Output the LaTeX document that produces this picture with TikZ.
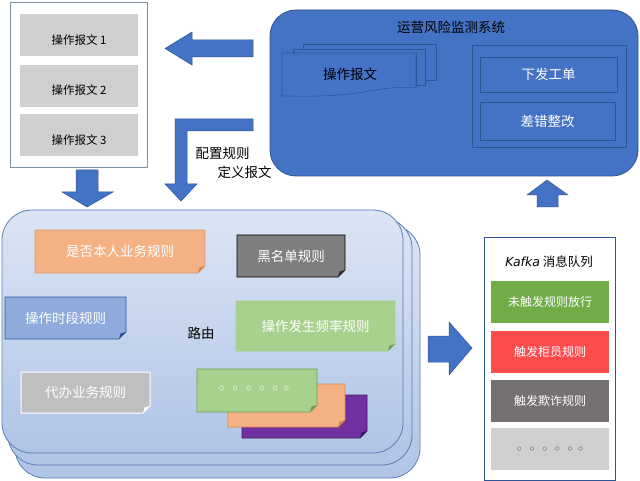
\documentclass[tikz,border=0pt]{standalone}
\usepackage{fontspec}
\setmainfont{Noto Sans CJK SC}
\newfontfamily\latinit{DejaVu Sans}
\usetikzlibrary{calc}
\definecolor{mblue}{HTML}{4472C4}
\definecolor{mbluedk}{HTML}{2F528F}
\definecolor{docline}{HTML}{2F5597}
\definecolor{lgray}{HTML}{D0CECE}
\definecolor{lblue1}{HTML}{DCE5F4}
\definecolor{lblue2}{HTML}{B0C4E6}
\definecolor{rborder}{HTML}{5B7DB8}
\definecolor{orng}{HTML}{F4B183}
\definecolor{orngdk}{HTML}{D9864A}
\definecolor{dgray}{HTML}{7F7F7F}
\definecolor{tblue}{HTML}{8FAADC}
\definecolor{tbluedk}{HTML}{2F5597}
\definecolor{lgreen}{HTML}{A9D18E}
\definecolor{lgreendk}{HTML}{6E9E50}
\definecolor{sgray}{HTML}{BFBFBF}
\definecolor{purp}{HTML}{7030A0}
\definecolor{purpdk}{HTML}{3E1A5C}
\definecolor{kgreen}{HTML}{70AD47}
\definecolor{kred}{HTML}{FF4B4B}
\definecolor{kgray}{HTML}{767171}
\definecolor{frame}{HTML}{7F8FA9}
\tikzset{
  blockarrow/.style={fill=mblue, draw=docline, line width=0.5pt},
  graybox/.style={fill=lgray, draw=none, minimum width=118pt, minimum height=42pt},
  graytxt/.style={font=\fontsize{11.5}{13}\selectfont},
  kbox/.style={draw=none, minimum width=118pt, minimum height=42pt, text=white, font=\fontsize{12}{14}\selectfont},
  bigtxt/.style={font=\fontsize{13.5}{16}\selectfont},
  wtxt/.style={text=white, font=\fontsize{13.5}{16}\selectfont},
  stackback/.style={draw=rborder, line width=0.8pt, top color=lblue1, bottom color=lblue2, rounded corners=30pt},
  docshape/.style={draw=docline, line width=0.6pt, fill=mblue},
  innerbox/.style={draw=docline, line width=0.7pt, fill=mblue},
}
% note with folded corner: name, x1, y1, x2, y2, style, fold colour, text style, text
\newcommand\notebox[9]{%
  \path[#6] (#2,#3) -- (#4,#3) -- (#4,#5-7) -- (#4-7,#5) -- (#2,#5) -- cycle;
  \fill[#7] (#4-7,#5) -- (#4,#5-7) -- (#4-5.5,#5-5.5) -- cycle;
  \node[#8] (#1) at ({(#2+#4)/2},{(#3+#5)/2}) {#9};
}
\newcommand\sixdots{$\circ\hspace{5.5pt}\circ\hspace{5.5pt}\circ\hspace{5.5pt}\circ\hspace{5.5pt}\circ\hspace{5.5pt}\circ$}
\begin{document}
\begin{tikzpicture}[x=1pt,y=-1pt]
\useasboundingbox (0,0) rectangle (640,481);
\fill[white] (0,0) rectangle (640,481);

% ---------- top-left message list ----------
\draw[frame, line width=0.8pt] (10,2) rectangle (147,167);
\node[graybox] (m1) at (79,35) {};
\node[graybox] (m2) at (79,86) {};
\node[graybox] (m3) at (79,135) {};
\node[graytxt] (t1) at ([yshift=-5pt]m1.center) {操作报文 1};
\node[graytxt] (t2) at ([yshift=-4pt]m2.center) {操作报文 2};
\node[graytxt] (t3) at ([yshift=-5pt]m3.center) {操作报文 3};

% ---------- monitoring system ----------
\path[fill=mblue, draw=mbluedk, line width=0.8pt, rounded corners=26pt] (270,10) rectangle (638,176);
\node[bigtxt] (sys) at (451,27) {运营风险监测系统};
% multi document
\path[docshape] (303,44) -- (436,44) -- (436,80) -- (425,80) -- (425,49) -- (303,49) -- cycle;
\path[docshape] (293,49) -- (425,49) -- (425,85) -- (416,85) -- (416,53) -- (293,53) -- cycle;
\path[docshape] (282,53) -- (416,53) -- (416,88) .. controls (385,86) and (375,91) .. (350,94) .. controls (320,97) and (300,96) .. (282,96) -- cycle;
\node[bigtxt, text=black] (doc) at (350,74) {操作报文};
\draw[docline, line width=0.7pt] (472,45) rectangle (626,147);
\node[innerbox, minimum width=137pt, minimum height=35pt, wtxt] (order) at (548.5,74.5) {下发工单};
\node[innerbox, minimum width=135pt, minimum height=38pt, wtxt] (fix) at (547.5,121) {差错整改};

% ---------- arrows ----------
\path[blockarrow] (253,40) -- (192,40) -- (192,32) -- (165,48.5) -- (192,65) -- (192,57) -- (253,57) -- cycle;
\path[blockarrow] (253,119) -- (175,119) -- (175,184) -- (165,184) -- (181,201) -- (197,184) -- (187,184) -- (187,131) -- (253,131) -- cycle;
\node[bigtxt, anchor=west] (cfg) at (192,153) {配置规则};
\node[bigtxt, anchor=west] (def) at (214,172) {定义报文};
\path[blockarrow] (76,170) -- (98,170) -- (98,192) -- (113,192) -- (87,207) -- (62,192) -- (76,192) -- cycle;
\path[blockarrow] (537,207) -- (558,207) -- (558,195) -- (568,195) -- (547,180) -- (527,195) -- (537,195) -- cycle;
\path[blockarrow] (428,336) -- (449,336) -- (449,322) -- (472,348) -- (449,375) -- (449,362) -- (428,362) -- cycle;

% ---------- rule engine ----------
\path[stackback] (15,225) rectangle (420,478);
\path[stackback] (8,218) rectangle (412,465);
\path[stackback] (2,210) rectangle (403,453);

\notebox{r1}{35}{230}{205}{273}{fill=orng, draw=orng!90!black, line width=0.6pt}{orngdk}{wtxt}{是否本人业务规则}
\notebox{r2}{237}{235}{345}{277}{fill=dgray, draw=black, line width=0.8pt}{black!80}{wtxt}{黑名单规则}
\notebox{r3}{5}{297}{126}{339}{fill=tblue, draw=tbluedk, line width=0.7pt}{tbluedk}{wtxt}{操作时段规则}
\node[bigtxt, text=black] (route) at (201,333) {路由};
\notebox{r4}{236}{301}{395}{351}{fill=lgreen, draw=lgreen, line width=0.6pt}{lgreendk}{wtxt}{操作发生频率规则}
\notebox{r5}{21}{372}{150}{413}{fill=sgray, draw=white, line width=1pt}{white}{wtxt}{代办业务规则}
\notebox{s3}{242}{395}{367}{438}{fill=purp, draw=purpdk, line width=0.8pt}{purpdk}{wtxt}{}
\notebox{s2}{228}{384}{345}{427}{fill=orng, draw=orngdk, line width=0.8pt}{orngdk}{wtxt}{}
\notebox{s1}{197}{369}{317}{412}{fill=lgreen, draw=lgreendk, line width=0.8pt}{lgreendk}{wtxt}{}
\node[text=white, font=\fontsize{11}{12}\selectfont] (dots1) at (254,389) {\sixdots};

% ---------- Kafka ----------
\draw[docline, line width=0.7pt] (484,237) rectangle (615,480);
\node[font=\fontsize{12.5}{14}\selectfont] (ktitle) at (549,262) {{\latinit\itshape Kafka} 消息队列};
\node[kbox, fill=kgreen] (k1) at (550,302) {未触发规则放行};
\node[kbox, fill=kred] (k2) at (550,352) {触发柜员规则};
\node[kbox, fill=kgray] (k3) at (550,401) {触发欺诈规则};
\node[kbox, fill=lgray, text=black!65, font=\fontsize{10}{12}\selectfont] (k4) at (550,449) {\sixdots};
\end{tikzpicture}
\end{document}
